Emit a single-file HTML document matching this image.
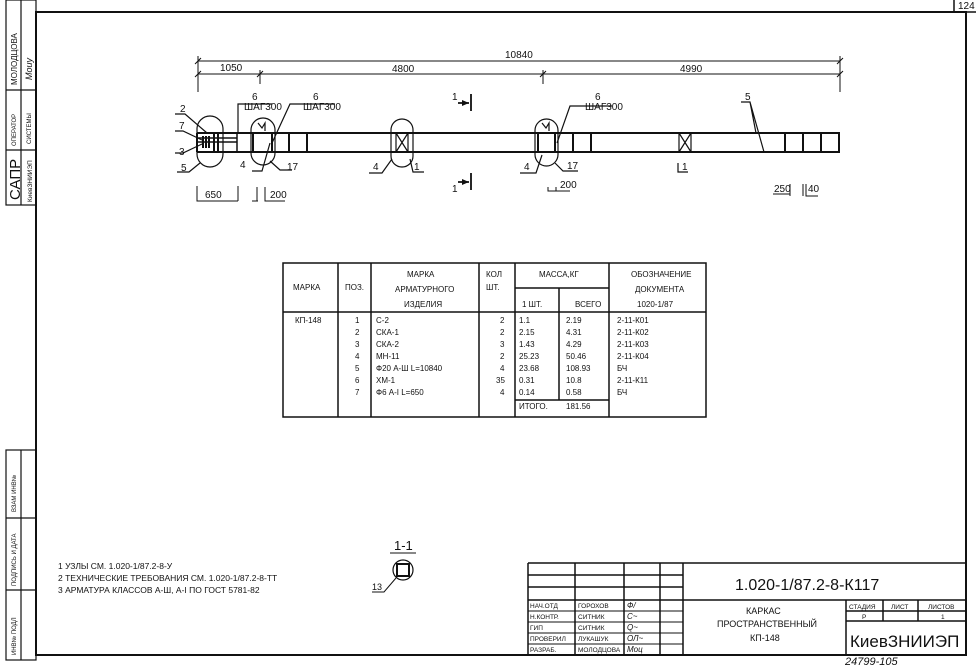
<!DOCTYPE html>
<html><head><meta charset="utf-8"><style>
html,body{margin:0;padding:0;background:#fff}
svg{display:block}
text{font-family:"Liberation Sans","DejaVu Sans",sans-serif;fill:#111}
</style></head><body>
<svg width="976" height="665" viewBox="0 0 976 665" xmlns="http://www.w3.org/2000/svg" stroke="#111" fill="none">
<rect x="36" y="12" width="930" height="643" stroke-width="2"/>
<path d="M954 0V12M954 12H976" stroke-width="1.5"/>
<text x="958" y="9" font-size="10" stroke="none">124</text>
<g stroke-width="1.2">
<rect x="6" y="0" width="30" height="205"/>
<path d="M21 0V205M6 90H36M6 150H36"/>
<rect x="6" y="450" width="30" height="210"/>
<path d="M21 450V660M6 518H36M6 590H36"/>
</g>
<g stroke="none" font-size="7">
<text transform="translate(17,85) rotate(-90)" font-size="8">МОЛОДЦОВА</text>
<text transform="translate(32,80) rotate(-90)" font-size="9" font-style="italic">Mouy</text>
<text transform="translate(16,146) rotate(-90)" font-size="6">ОПЕРАТОР</text>
<text transform="translate(31,144) rotate(-90)" font-size="6">СИСТЕМЫ</text>
<text transform="translate(20,200) rotate(-90)" font-size="15">САПР</text>
<text transform="translate(32,202) rotate(-90)" font-size="6.5">КиевЗНИИЭП</text>
<text transform="translate(16,512) rotate(-90)" font-size="6">ВЗАМ ИНВ№</text>
<text transform="translate(16,586) rotate(-90)" font-size="6">ПОДПИСЬ И ДАТА</text>
<text transform="translate(16,655) rotate(-90)" font-size="6">ИНВ№ ПОДЛ</text>
</g>
<g stroke-width="1">
<path d="M198 61H840M198 74H840M198 56V92M260 70V84M543 70V84M840 56V92"/>
<path d="M195 64l6-6M195 77l6-6M257 77l6-6M540 77l6-6M837 64l6-6M837 77l6-6"/>
</g>
<g stroke="none" font-size="10">
<text x="505" y="58">10840</text>
<text x="220" y="71">1050</text>
<text x="392" y="72">4800</text>
<text x="680" y="72">4990</text>
</g>
<g stroke-width="2">
<path d="M197 133H840M197 152H840M197 133V152"/>
<path d="M197 138H237M197 142H237M237 133V152" stroke-width="1.5"/>
<path d="M203 136V148M206 136V148M209 136V148M214 133V152M218 133V152"/>
<path d="M253 133V152M272 133V152M289 133V152M307 133V152"/>
<path d="M396 133V152M408 133V152M396 133L408 152M408 133L396 152" stroke-width="1.2"/>
<path d="M538 133V152M555 133V152M573 133V152M591 133V152"/>
<path d="M679 133V152M691 133V152M679 133L691 152M691 133L679 152" stroke-width="1.2"/>
<path d="M785 133V152M803 133V152M821 133V152M839 133V152"/>
</g>
<g stroke-width="1.2">
<rect x="197" y="116" width="26" height="51" rx="13"/>
<rect x="251" y="118" width="24" height="47" rx="12"/>
<rect x="391" y="119" width="22" height="48" rx="11"/>
<rect x="535" y="119" width="23" height="47" rx="11.5"/>
<path d="M258 123l4 5l3-5v8M542 123l4 5l3-5v8"/>
<path d="M175 114H185L207 133M175 131H183L202 140M175 153H183L202 144M177 172H189L200 163"/>
<path d="M238 133V104H272M252 171H262L270 143M272 143L290 104H335M270 161L280 170H292"/>
<path d="M369 173H382L392 159M410 159L413 172H424"/>
<path d="M520 173H536L542 155M557 143L570 106H612M555 163L563 171H578M678 163V172H688"/>
<path d="M741 102H750L756 133M750 102L764 152"/>
</g>
<g stroke="none" font-size="10">
<text x="180" y="112">2</text><text x="179" y="129">7</text><text x="179" y="155">3</text><text x="181" y="171">5</text>
<text x="252" y="100">6</text><text x="244" y="110">ШАГ300</text>
<text x="313" y="100">6</text><text x="303" y="110">ШАГ300</text>
<text x="595" y="100">6</text><text x="585" y="110">ШАГ300</text>
<text x="745" y="100">5</text>
<text x="240" y="168">4</text><text x="287" y="170">17</text>
<text x="373" y="170">4</text><text x="414" y="170">1</text>
<text x="524" y="170">4</text><text x="567" y="169">17</text>
<text x="682" y="170">1</text>
</g>
<g stroke-width="1">
<path d="M197 186V201H238M238 186V201M257 187V201M265 187V201H285M252 201H258"/>
<path d="M548 187V191H570M556 187V191M773 194H790M790 184V196M803 184V196M806 184V196H818"/>
</g>
<g stroke="none" font-size="10">
<text x="205" y="198">650</text><text x="270" y="198">200</text>
<text x="560" y="188">200</text><text x="774" y="192">250</text><text x="808" y="192">40</text>
</g>
<g stroke-width="1.8">
<path d="M471 94V111M471 173V190M458 103H469M458 182H469"/>
</g>
<path d="M462 100l7 3l-7 3zM462 179l7 3l-7 3z" fill="#111" stroke="none"/>
<g stroke="none" font-size="10"><text x="452" y="100">1</text><text x="452" y="192">1</text></g>
<g stroke-width="1.5">
<rect x="283" y="263" width="423" height="154"/>
<path d="M338 263V417M371 263V417M479 263V417M515 263V417M609 263V417M515 288H609M283 312H706M559 288V400M515 400H609"/>
</g>
<g stroke="none" font-size="8">
<text x="293" y="290">МАРКА</text><text x="345" y="290">ПОЗ.</text>
<text x="407" y="277">МАРКА</text><text x="395" y="292">АРМАТУРНОГО</text><text x="404" y="307">ИЗДЕЛИЯ</text>
<text x="486" y="277">КОЛ</text><text x="486" y="290">ШТ.</text>
<text x="539" y="277">МАССА,КГ</text>
<text x="522" y="307">1 ШТ.</text><text x="575" y="307">ВСЕГО</text>
<text x="631" y="277">ОБОЗНАЧЕНИЕ</text><text x="635" y="292">ДОКУМЕНТА</text><text x="637" y="307">1020-1/87</text>
<text x="295" y="323">КП-148</text>
<text x="355" y="323">1</text><text x="355" y="335">2</text><text x="355" y="347">3</text><text x="355" y="359">4</text><text x="355" y="371">5</text><text x="355" y="383">6</text><text x="355" y="395">7</text>
<text x="376" y="323">С-2</text><text x="376" y="335">СКА-1</text><text x="376" y="347">СКА-2</text><text x="376" y="359">МН-11</text><text x="376" y="371">Ф20 А-Ш L=10840</text><text x="376" y="383">ХМ-1</text><text x="376" y="395">Ф6 А-I L=650</text>
<text x="500" y="323">2</text><text x="500" y="335">2</text><text x="500" y="347">3</text><text x="500" y="359">2</text><text x="500" y="371">4</text><text x="496" y="383">35</text><text x="500" y="395">4</text>
<text x="519" y="323">1.1</text><text x="519" y="335">2.15</text><text x="519" y="347">1.43</text><text x="519" y="359">25.23</text><text x="519" y="371">23.68</text><text x="519" y="383">0.31</text><text x="519" y="395">0.14</text><text x="519" y="409">ИТОГО.</text>
<text x="566" y="323">2.19</text><text x="566" y="335">4.31</text><text x="566" y="347">4.29</text><text x="566" y="359">50.46</text><text x="566" y="371">108.93</text><text x="566" y="383">10.8</text><text x="566" y="395">0.58</text><text x="566" y="409">181.56</text>
<text x="617" y="323">2-11-К01</text><text x="617" y="335">2-11-К02</text><text x="617" y="347">2-11-К03</text><text x="617" y="359">2-11-К04</text><text x="617" y="371">БЧ</text><text x="617" y="383">2-11-К11</text><text x="617" y="395">БЧ</text>
</g>
<g stroke="none" font-size="8.5">
<text x="58" y="569">1 УЗЛЫ СМ. 1.020-1/87.2-8-У</text>
<text x="58" y="581">2 ТЕХНИЧЕСКИЕ ТРЕБОВАНИЯ СМ. 1.020-1/87.2-8-ТТ</text>
<text x="58" y="593">3 АРМАТУРА КЛАССОВ А-Ш, А-I ПО ГОСТ 5781-82</text>
</g>
<text x="394" y="550" font-size="13" stroke="none">1-1</text>
<path d="M390 553H416" stroke-width="1"/>
<circle cx="403" cy="570" r="10" stroke-width="1.2"/>
<rect x="397" y="564" width="12" height="12" stroke-width="2"/>
<path d="M372 592H384L396 578" stroke-width="1"/>
<text x="372" y="590" font-size="9" stroke="none">13</text>
<g stroke-width="1.5">
<path d="M528 563H966M528 563V655M575 563V655M624 563V655M660 563V655M683 563V655M528 575H683M528 587H683M528 600H966"/>
<path d="M528 611H683M528 622H683M528 633H683M528 644H683" stroke-width="1"/>
<path d="M846 600V655M883 600V621M918 600V621M846 611H966M846 621H966"/>
</g>
<g stroke="none" font-size="6.5">
<text x="530" y="608">НАЧ.ОТД</text><text x="578" y="608">ГОРОХОВ</text>
<text x="530" y="619">Н.КОНТР.</text><text x="578" y="619">СИТНИК</text>
<text x="530" y="630">ГИП</text><text x="578" y="630">СИТНИК</text>
<text x="530" y="641">ПРОВЕРИЛ</text><text x="578" y="641">ЛУКАШУК</text>
<text x="530" y="652">РАЗРАБ.</text><text x="578" y="652">МОЛОДЦОВА</text>
<text x="849" y="609">СТАДИЯ</text><text x="891" y="609">ЛИСТ</text><text x="928" y="609">ЛИСТОВ</text>
<text x="862" y="619">Р</text><text x="941" y="619">1</text>
</g>
<g stroke="none" font-style="italic" font-size="8">
<text x="627" y="608">Ф/</text><text x="627" y="619">С~</text><text x="627" y="630">Q~</text><text x="627" y="641">ОЛ~</text><text x="627" y="652">Моц</text>
</g>
<text x="735" y="590" font-size="16" stroke="none">1.020-1/87.2-8-К117</text>
<g stroke="none" font-size="9">
<text x="746" y="614">КАРКАС</text>
<text x="717" y="627">ПРОСТРАНСТВЕННЫЙ</text>
<text x="750" y="641">КП-148</text>
</g>
<text x="850" y="647" font-size="17" stroke="none">КиевЗНИИЭП</text>
<text x="845" y="665" font-size="11" font-style="italic" stroke="none">24799-105</text>
</svg>
</body></html>
